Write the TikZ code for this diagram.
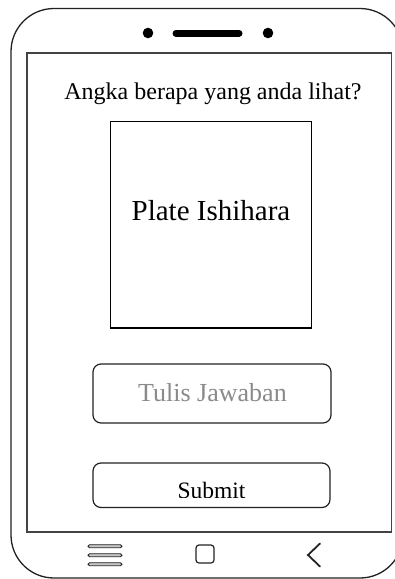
\documentclass[tikz,border=0pt]{standalone}
\usepackage{fontspec}
\setmainfont{Liberation Serif}
\definecolor{edge}{HTML}{222222}
\definecolor{hint}{HTML}{8A8A8A}
\tikzset{
  phone/.style={draw=edge, line width=1.3pt, rounded corners=43pt},
  screen/.style={draw=edge!85!white, line width=1.6pt},
  plate/.style={draw=black, line width=1.1pt},
  field/.style={draw=edge, line width=1.2pt, rounded corners=8pt},
  navbar/.style={draw=edge, fill=gray!45, line width=0.9pt, rounded corners=1.5pt},
  navicon/.style={draw=edge, line width=1.2pt},
  lbl/.style={inner sep=0pt, anchor=base, text=black}
}
\begin{document}
\begin{tikzpicture}[x=1pt,y=-1pt]
\useasboundingbox (0,0) rectangle (395,579);
% phone body and screen
\begin{scope}
\clip (0,0) rectangle (395,579);
\draw[phone] (11,8.5) rectangle (403,578);
\end{scope}
\coordinate (scrTL) at (27,53);
\coordinate (scrBR) at (391.5,532);
\draw[screen] (scrTL) rectangle (scrBR);
% speaker and sensors
\fill[black] (148,33) circle (5.3pt);
\fill[black] (268,33) circle (5.3pt);
\draw[black, line width=7pt, line cap=round] (176,33.3) -- (239,33.3);
% title
\node[lbl, font=\fontsize{24}{28}\selectfont] (title) at (213,99.5) {Angka berapa yang anda lihat?};
% plate
\draw[plate] (110.7,121.7) rectangle (311.7,328);
\node[lbl, font=\fontsize{29}{34}\selectfont] (plate) at (211,220) {Plate Ishihara};
% answer field
\draw[field] (93,364) rectangle (331,423);
\node[lbl, text=hint, font=\fontsize{26}{30}\selectfont] (answer) at (212.5,401.7) {Tulis Jawaban};
% submit button
\draw[field] (93,463) rectangle (330,507.5);
\begin{scope}
\clip (93,463) rectangle (330,497.6);
\node[lbl, font=\fontsize{23.5}{27}\selectfont] (submit) at (211.5,498) {Submit};
\end{scope}
% navigation bar
\draw[navbar] (88,544.7) rectangle (122,547.7);
\draw[navbar] (88,553.7) rectangle (122,556.7);
\draw[navbar] (88,562.7) rectangle (122,565.7);
\draw[navicon, rounded corners=3pt] (196,545) rectangle (214,563);
\coordinate (chevT) at (320,543.5);
\coordinate (chevL) at (308,555);
\coordinate (chevB) at (320,566.5);
\draw[navicon, line width=1.8pt, line cap=round] (chevT) -- (chevL) -- (chevB);
\end{tikzpicture}
\end{document}
